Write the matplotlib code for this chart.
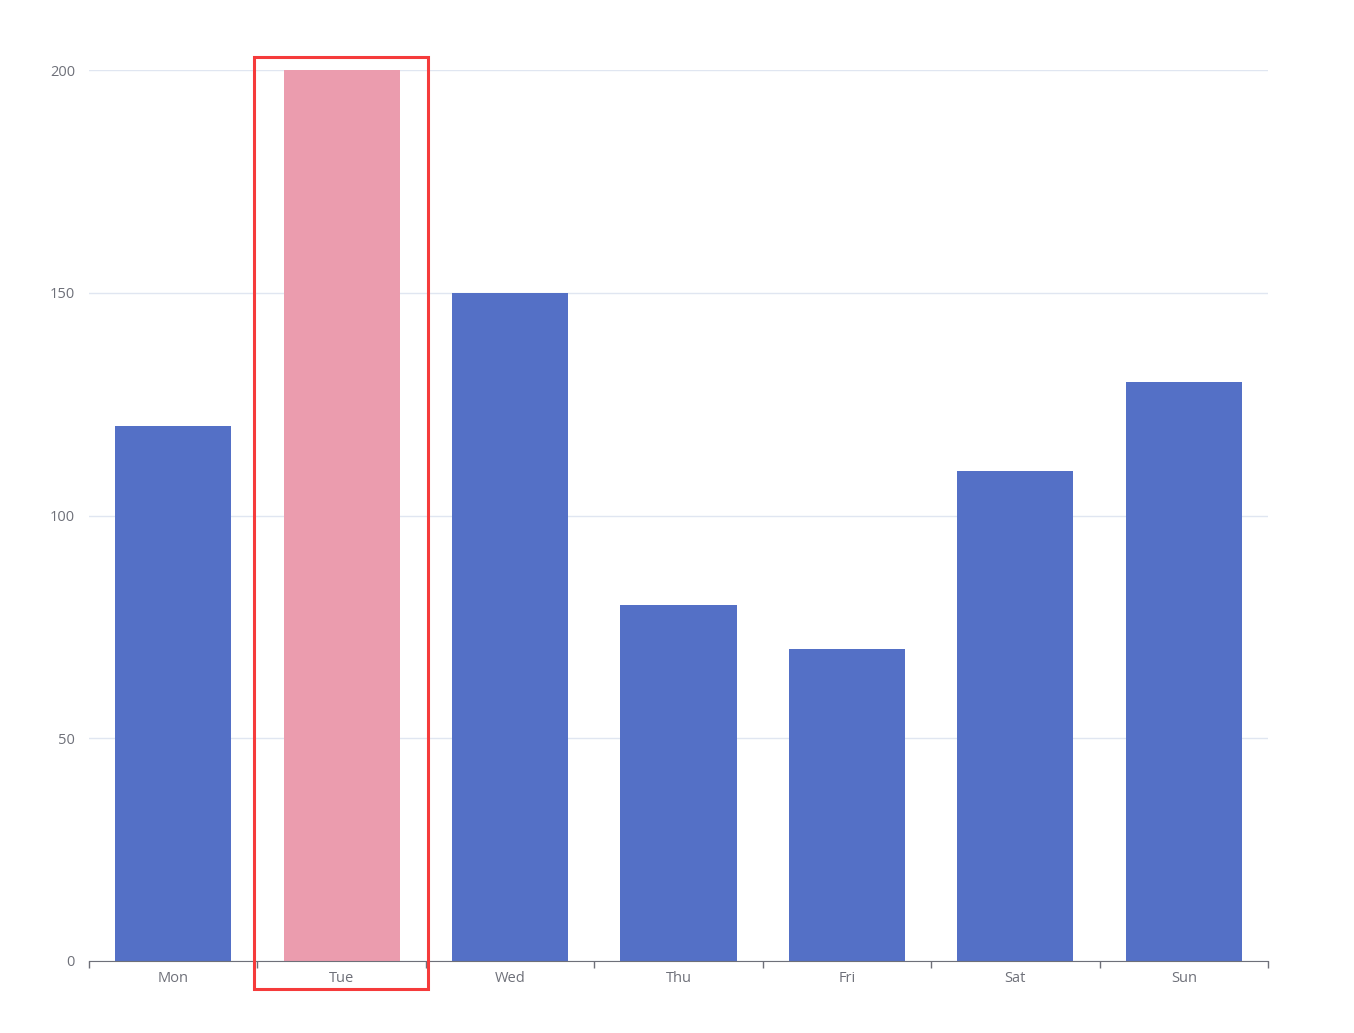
import numpy as np
import matplotlib.pyplot as plt
from matplotlib.patches import Rectangle

days = ['Mon', 'Tue', 'Wed', 'Thu', 'Fri', 'Sat', 'Sun']
values = [120, 200, 150, 80, 70, 110, 130]
highlight = 'Tue'
yticks = [0, 50, 100, 150, 200]

blue = '#5470c6'
pink = '#eb9cae'
txt = '#6e7079'

plt.rcParams['font.family'] = ['Open Sans', 'DejaVu Sans']

fig = plt.figure(figsize=(13.54, 10.33), dpi=100)
ax = fig.add_axes([89/1354, 1-961/1033, (1268-89)/1354, (961-70)/1033])

x = np.arange(len(days))
colors = [pink if d == highlight else blue for d in days]
ax.bar(x, values, width=0.69, color=colors, zorder=2)

ax.set_xlim(-0.5, len(days)-0.5)
ax.set_ylim(0, 200)
ax.set_yticks(yticks)
ax.grid(axis='y', color='#e0e6f1', lw=1, zorder=0)
ax.set_xticks(x)
ax.set_xticklabels(days)
ax.set_xticks(np.arange(-0.5, len(days)), minor=True)
ax.tick_params(axis='x', which='major', length=0, pad=7, labelsize=10.5, labelcolor=txt)
ax.tick_params(axis='x', which='minor', length=5, color=txt, width=1)
ax.tick_params(axis='y', length=0, pad=10, labelsize=10.5, labelcolor=txt)
for s in ['top', 'right', 'left']:
    ax.spines[s].set_visible(False)
ax.spines['bottom'].set_color(txt)

# highlight box around the selected category
i = days.index(highlight)
ax.add_patch(Rectangle((i-0.52, -6.3), 1.03, 209.2, fill=False, ec='#f53b3b',
                       lw=2.2, clip_on=False, zorder=5))

fig.savefig('out.png', dpi=100)
